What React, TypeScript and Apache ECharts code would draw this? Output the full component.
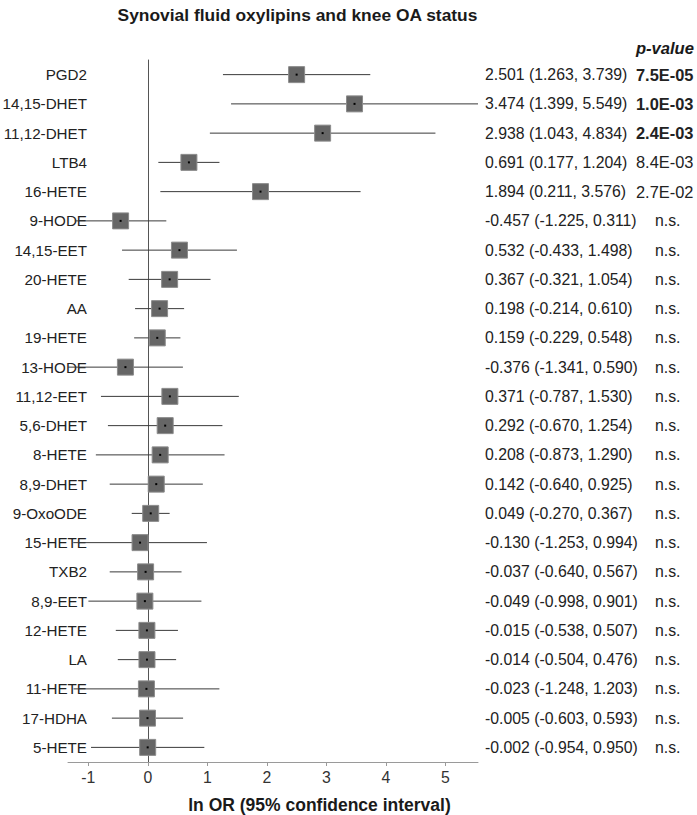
import React, { useEffect, useRef } from "react";
import * as echarts from "echarts";

const categories = [
  "PGD2", "14,15-DHET", "11,12-DHET", "LTB4", "16-HETE", "9-HODE", "14,15-EET",
  "20-HETE", "AA", "19-HETE", "13-HODE", "11,12-EET", "5,6-DHET", "8-HETE",
  "8,9-DHET", "9-OxoODE", "15-HETE", "TXB2", "8,9-EET", "12-HETE", "LA",
  "11-HETE", "17-HDHA", "5-HETE",
];
const estimates = [
  2.501, 3.474, 2.938, 0.691, 1.894, -0.457, 0.532, 0.367, 0.198, 0.159, -0.376,
  0.371, 0.292, 0.208, 0.142, 0.049, -0.13, -0.037, -0.049, -0.015, -0.014,
  -0.023, -0.005, -0.002,
];
const lowerCI = [
  1.263, 1.399, 1.043, 0.177, 0.211, -1.225, -0.433, -0.321, -0.214, -0.229,
  -1.341, -0.787, -0.67, -0.873, -0.64, -0.27, -1.253, -0.64, -0.998, -0.538,
  -0.504, -1.248, -0.603, -0.954,
];
const upperCI = [
  3.739, 5.549, 4.834, 1.204, 3.576, 0.311, 1.498, 1.054, 0.61, 0.548, 0.59,
  1.53, 1.254, 1.29, 0.925, 0.367, 0.994, 0.567, 0.901, 0.507, 0.476, 1.203,
  0.593, 0.95,
];
const pValues = [
  "7.5E-05", "1.0E-03", "2.4E-03", "8.4E-03", "2.7E-02", "n.s.", "n.s.", "n.s.",
  "n.s.", "n.s.", "n.s.", "n.s.", "n.s.", "n.s.", "n.s.", "n.s.", "n.s.", "n.s.",
  "n.s.", "n.s.", "n.s.", "n.s.", "n.s.", "n.s.",
];
const tickValues = [-1, 0, 1, 2, 3, 4, 5];
const axisMin = -1.341;
const axisMax = 5.549;

const FONT = '"Liberation Sans", Arial, sans-serif';

export default function App() {
  const ref = useRef<HTMLDivElement>(null);

  useEffect(() => {
    document.body.style.margin = "0";
    if (!ref.current) return;
    const chart = echarts.init(ref.current, undefined, { renderer: "svg" });

    const markData = categories.map((_, i) => [estimates[i], i, lowerCI[i], upperCI[i]]);
    const textData = categories.map((_, i) => [0, i]);

    const option: any = {
      animation: false,
      backgroundColor: "#ffffff",
      grid: {
        left: 68,
        right: 219,
        top: 60,
        bottom: 53,
        containLabel: false,
        outerBoundsMode: "none",
      },
      xAxis: {
        type: "value",
        min: axisMin,
        max: axisMax,
        splitLine: { show: false },
        axisLine: { show: true, onZero: false, lineStyle: { color: "#9a9a9a", width: 1 } },
        axisTick: { show: true, length: 4, lineStyle: { color: "#9a9a9a" }, customValues: tickValues },
        axisLabel: {
          show: true,
          customValues: tickValues,
          margin: 7,
          fontSize: 15.8,
          fontFamily: FONT,
          color: "#333",
        },
      },
      yAxis: {
        type: "category",
        data: categories,
        inverse: true,
        axisLine: { show: true, onZero: true, lineStyle: { color: "#555", width: 1 } },
        axisTick: { show: false },
        splitLine: { show: false },
        axisLabel: {
          margin: -19,
          fontSize: 15.2,
          fontFamily: FONT,
          color: "#222",
          align: "right",
        },
      },
      series: [
        {
          type: "custom",
          data: markData,
          encode: { x: [0, 2, 3], y: 1 },
          clip: false,
          z: 5,
          renderItem: (params: any, api: any) => {
            const yi = api.value(1);
            const c = api.coord([api.value(0), yi]);
            const l = api.coord([api.value(2), yi]);
            const u = api.coord([api.value(3), yi]);
            const half = 8;
            return {
              type: "group",
              children: [
                {
                  type: "line",
                  shape: { x1: l[0], y1: c[1], x2: u[0], y2: c[1] },
                  style: { stroke: "#3a3a3a", lineWidth: 1 },
                },
                {
                  type: "rect",
                  shape: { x: c[0] - half, y: c[1] - half, width: half * 2, height: half * 2 },
                  style: { fill: "#666666", stroke: "#8c8c8c", lineWidth: 1 },
                },
                {
                  type: "rect",
                  shape: { x: c[0] - 1, y: c[1] - 1, width: 2, height: 2 },
                  style: { fill: "#000000" },
                },
              ],
            };
          },
        },
        {
          type: "custom",
          data: textData,
          encode: { x: 0, y: 1 },
          clip: false,
          silent: true,
          renderItem: (params: any, api: any) => {
            const i = api.value(1);
            const y = api.coord([0, i])[1];
            const p = pValues[i];
            const isNS = p === "n.s.";
            const pNum = isNS ? 1 : parseFloat(p);
            const ci = `${estimates[i].toFixed(3)} (${lowerCI[i].toFixed(3)}, ${upperCI[i].toFixed(3)})`;
            return {
              type: "group",
              children: [
                {
                  type: "text",
                  x: 485,
                  y: y,
                  style: {
                    text: ci,
                    fontSize: 15.8,
                    fontFamily: FONT,
                    fill: "#222",
                    align: "left",
                    verticalAlign: "middle",
                  },
                },
                {
                  type: "text",
                  x: isNS ? 655 : 636,
                  y: y,
                  style: {
                    text: p,
                    fontSize: isNS ? 15.8 : 16.4,
                    fontWeight: pNum < 0.005 ? "bold" : "normal",
                    fontFamily: FONT,
                    fill: "#222",
                    align: "left",
                    verticalAlign: "middle",
                  },
                },
              ],
            };
          },
        },
      ],
      graphic: [
        {
          type: "text",
          x: 297.5,
          y: 15,
          style: {
            text: "Synovial fluid oxylipins and knee OA status",
            fontSize: 17.4,
            fontWeight: "bold",
            fontFamily: FONT,
            fill: "#1a1a1a",
            align: "center",
            verticalAlign: "middle",
          },
        },
        {
          type: "text",
          x: 694,
          y: 48,
          style: {
            text: "p-value",
            fontSize: 16.6,
            fontWeight: "bold",
            fontStyle: "italic",
            fontFamily: FONT,
            fill: "#1a1a1a",
            align: "right",
            verticalAlign: "middle",
          },
        },
        {
          type: "text",
          x: 319.5,
          y: 805,
          style: {
            text: "ln OR (95% confidence interval)",
            fontSize: 17.5,
            fontWeight: "bold",
            fontFamily: FONT,
            fill: "#1a1a1a",
            align: "center",
            verticalAlign: "middle",
          },
        },
      ],
    };

    chart.setOption(option);
    return () => {
      chart.dispose();
    };
  }, []);

  return (
    <div
      ref={ref}
      style={{ position: "absolute", left: 0, top: 0, width: 697, height: 815 }}
    />
  );
}
